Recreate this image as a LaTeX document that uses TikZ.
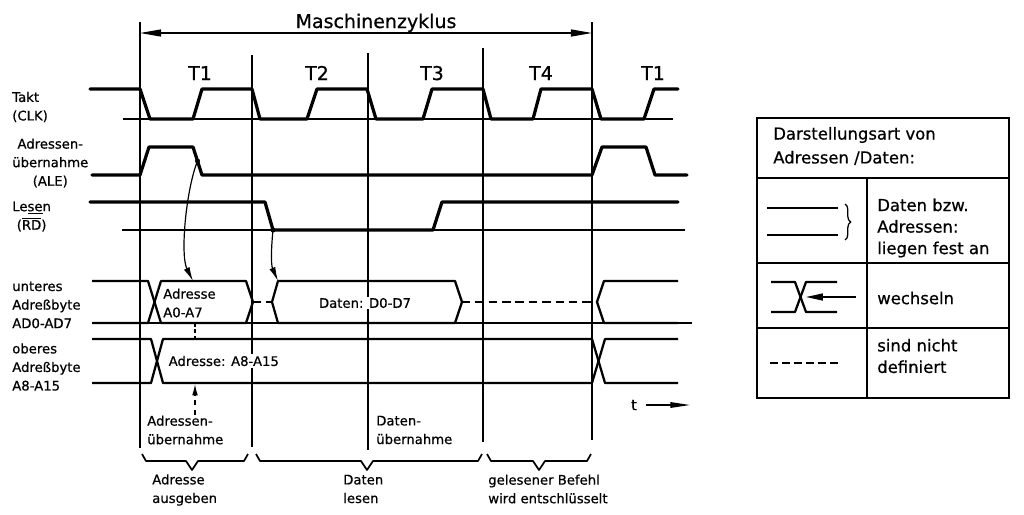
\documentclass[tikz,border=0pt]{standalone}
\usepackage{fontspec}
\setmainfont{DejaVu Sans}[FakeBold=0.6]
\usetikzlibrary{arrows.meta, positioning, decorations.pathreplacing}

\begin{document}
\begin{tikzpicture}[x=0.025cm, y=-0.025cm,
      sig/.style={line width=2.3pt, line join=round, line cap=round},
      bus/.style={line width=1.6pt, line join=round},
      grid/.style={line width=0.85pt},
      undef/.style={line width=1.4pt, dash pattern=on 5.5pt off 3pt},
      lbl/.style={font=\fontsize{9.4}{13.2}\selectfont, inner sep=0pt, anchor=west},
      big/.style={font=\fontsize{13.5}{16}\selectfont, inner sep=0pt, anchor=base},
      leg/.style={font=\fontsize{11.7}{15.3}\selectfont, inner sep=0pt, anchor=west, align=left}]

  \useasboundingbox (0,0) rectangle (1024,514);

  % Phase borders
  \foreach \x/\t/\b in {140/22/448, 252/55/447, 368/53/450, 483/48/442, 592/22/440}
    \draw[grid] (\x,\t) -- (\x,\b);

  \coordinate (mzl) at (140,33);
  \coordinate (mzr) at (592,33);
  \draw[grid, {Triangle[length=15pt,width=5pt]}-{Triangle[length=15pt,width=5pt]}] (mzl) -- (mzr);
  \node[big] (mz) at (376,28) {Maschinenzyklus};
  \foreach \x/\t in {200/T1, 317/T2, 432/T3, 541/T4, 653/T1}
    \node[big] (t\x) at (\x,80) {\t};

  % Takt (CLK)
  \draw[grid] (123,119) -- (673,119);
  \draw[sig] (90,89) -- (140,89) -- (150,119) -- (193,119) -- (202,89) -- (252,89) -- (260,119) -- (307,119)
    -- (317,89) -- (367,89) -- (376,119) -- (423,119) -- (432,89) -- (483,89) -- (491,119) -- (533,119)
    -- (541,89) -- (592,89) -- (601,119) -- (644,119) -- (654,89) -- (678,89);

  % ALE
  \draw[sig] (92,175) -- (140,175) -- (149,147) -- (193,147) -- (202,175) -- (592,175) -- (602,147)
    -- (646,147) -- (655,175) -- (687,175);
  \coordinate (aledot) at (197.5,161);

  % RD
  \draw[grid] (122,230) -- (685,230);
  \draw[sig] (90,202) -- (265,202) -- (273,230) -- (433,230) -- (442,202) -- (678,202);
  \coordinate (rddot) at (273,230);

  % AD0-AD7
  \draw[grid] (92,323) -- (692,323);
  \draw[bus] (92,281) -- (148,281) -- (161,323) -- (246,323) -- (253,302);
  \draw[bus] (92,323) -- (148,323) -- (161,281) -- (246,281) -- (253,302);
  \draw[bus, dash pattern=on 6pt off 3pt] (253,302) -- (272,302);
  \draw[bus] (272,302) -- (278,281) -- (455,281) -- (462,302) -- (455,323) -- (278,323) -- cycle;
  \draw[bus, dash pattern=on 6pt off 3.5pt] (462,302) -- (597,302);
  \draw[bus] (678,281) -- (604,281) -- (597,302) -- (604,323) -- (678,323);
  \coordinate (adrtop) at (193,281);
  \coordinate (datop) at (278,281);

  % A8-A15
  \draw[bus] (92,339) -- (151,339) -- (163,383) -- (592,383) -- (605,339) -- (678,339);
  \draw[bus] (92,383) -- (151,383) -- (163,339) -- (592,339) -- (605,383) -- (678,383);
  \coordinate (adrbot) at (195,323);
  \coordinate (hitop) at (195,339);
  \coordinate (adrarr) at (195,384);
  \draw[line width=1.2pt, dash pattern=on 2.5pt off 2pt] (adrbot) -- (hitop);

  % Arrows
  \fill (aledot) circle[radius=1.8pt];
  \fill (rddot) circle[radius=1.8pt];
  \draw[grid, -{Latex[length=10pt,width=4.5pt]}] (aledot) .. controls (186,190) and (180,255) .. (adrtop);
  \draw[grid, -{Latex[length=10pt,width=4.5pt]}] (rddot) .. controls (271,250) and (271,265) .. (datop);

  % Signal names
  \node[lbl, align=left] (clk) at (12,107) {Takt\\(CLK)};
  \node[lbl, align=center] (ale) at (12,163) {Adressen-\\übernahme\\(ALE)};
  \node[lbl, align=center] (rd) at (12,216.5) {Le\underline{se}n\\($\overline{\mbox{RD}}$)};
  \node[lbl, align=left] (adlo) at (12,305) {unteres\\Adreßbyte\\AD0-AD7};
  \node[lbl, align=left] (adhi) at (12,367) {oberes\\Adreßbyte\\A8-A15};

  % Bus contents
  \node[lbl, align=left] (adr) at (163,303) {Adresse\\A0-A7};
  \node[lbl, fill=white, inner sep=1pt, anchor=center] (daten) at (365,303) {Daten: D0-D7};
  \node[lbl, fill=white, inner sep=1pt] (adrhi) at (167,361) {Adresse: A8-A15};

  % Annotations
  \node[lbl, align=left] (adrueb) at (147,430) {Adressen-\\übernahme};
  \draw[grid, dash pattern=on 4pt off 3pt, -{Latex[length=8pt,width=4pt]}] (adrueb.north -| adrarr) -- (adrarr);
  \node[lbl, align=left] (datueb) at (376,430) {Daten-\\übernahme};

  \node[lbl, inner xsep=6pt, anchor=center, font=\fontsize{10.5}{13}\selectfont] (t) at (634,405) {t};
  \coordinate (tend) at (690,405);
  \draw[grid, -{Triangle[length=14pt,width=4pt]}] (t.east) -- (tend);

  \foreach \a/\m/\b in {142/192/248, 256/367/482, 487/539/591}
    \draw[line width=1.2pt, line join=round] (\a,454) -- (\a+4,461) -- (\m-6,461) -- (\m,470)
      -- (\m+6,461) -- (\b-4,461) -- (\b,454);
  \node[lbl, align=left] (ausg) at (152,490) {Adresse\\ausgeben};
  \node[lbl, align=left] (lesen) at (343,489) {Daten\\lesen};
  \node[lbl, align=left] (befehl) at (488,489) {gelesener Befehl\\wird entschlüsselt};

  % Legend
  \draw[line width=1.2pt] (757,118) rectangle (1009,398);
  \draw[line width=1.2pt] (757,178) -- (1009,178) (757,263) -- (1009,263) (757,328) -- (1009,328)
    (867,178) -- (867,398);
  \node[leg, font=\fontsize{11.7}{17}\selectfont] (legtitle) at (773,146) {Darstellungsart von\\Adressen /Daten:};

  \draw[line width=1.7pt] (767,208) -- (838,208) (767,235) -- (838,235);
  \draw[line width=0.9pt, decorate, decoration={brace, amplitude=4pt}] (845,204) -- (845,240);
  \node[leg] (fest) at (877,228) {Daten bzw.\\Adressen:\\liegen fest an};

  \draw[bus] (771,282) -- (795,282) -- (806,312) -- (837,312);
  \draw[bus] (771,312) -- (795,312) -- (806,282) -- (837,282);
  \coordinate (xcross) at (806,297);
  \coordinate (xarr) at (856,297);
  \draw[grid, -{Triangle[length=12pt,width=5pt]}] (xarr) -- (xcross);
  \node[leg] (wechseln) at (877,298) {wechseln};

  \draw[undef] (770,363) -- (840,363);
  \node[leg] (undefd) at (877,356) {sind nicht\\definiert};
\end{tikzpicture}
\end{document}
